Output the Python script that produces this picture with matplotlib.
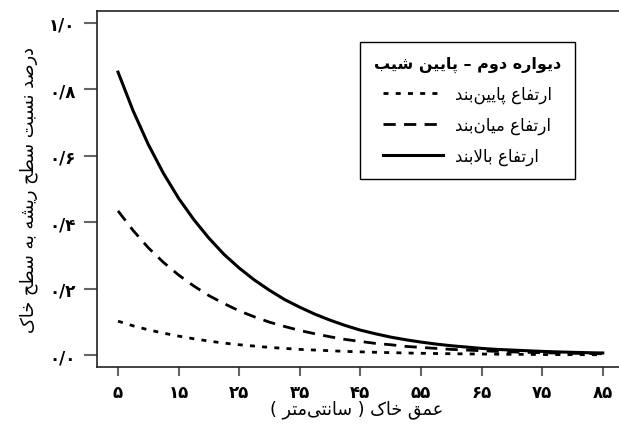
import matplotlib
matplotlib.use("Agg")
import matplotlib.pyplot as plt

# soil depth (cm) and root/soil surface ratio for the three wall heights
depth = [5, 7.5, 10, 12.5, 15, 17.5, 20, 22.5, 25, 27.5, 30, 32.5, 35, 37.5, 40, 42.5,
         45, 47.5, 50, 52.5, 55, 57.5, 60, 62.5, 65, 67.5, 70, 72.5, 75, 77.5, 80, 82.5, 85]
low_band = [0.102, 0.088, 0.076, 0.066, 0.057, 0.049, 0.042, 0.036, 0.031, 0.027, 0.023,
            0.020, 0.017, 0.015, 0.013, 0.011, 0.0096, 0.0083, 0.0072, 0.0062, 0.0053,
            0.0046, 0.0040, 0.0034, 0.0030, 0.0026, 0.0022, 0.0019, 0.0016, 0.0014,
            0.0012, 0.0011, 0.0009]
mid_band = [0.434, 0.375, 0.323, 0.279, 0.241, 0.208, 0.179, 0.155, 0.133, 0.115, 0.099,
            0.086, 0.074, 0.064, 0.055, 0.047, 0.041, 0.035, 0.031, 0.026, 0.023, 0.020,
            0.017, 0.015, 0.013, 0.011, 0.0094, 0.0081, 0.0070, 0.0060, 0.0052, 0.0045,
            0.0039]
high_band = [0.852, 0.735, 0.634, 0.547, 0.472, 0.408, 0.352, 0.303, 0.262, 0.226, 0.195,
             0.167, 0.144, 0.123, 0.105, 0.089, 0.075, 0.064, 0.054, 0.046, 0.039, 0.033,
             0.028, 0.024, 0.020, 0.017, 0.015, 0.013, 0.011, 0.0095, 0.0082, 0.0071,
             0.0062]

x_ticks = [5, 15, 25, 35, 45, 55, 65, 75, 85]
x_ticklabels = ["۵", "۱۵", "۲۵", "۳۵", "۴۵", "۵۵", "۶۵", "۷۵", "۸۵"]
y_ticks = [0.0, 0.2, 0.4, 0.6, 0.8, 1.0]
y_ticklabels = ["۰/۰", "۰/۲", "۰/۴", "۰/۶", "۰/۸", "۱/۰"]

legend_title = "دیواره دوم – پایین شیب"
series_labels = ["ارتفاع پایین\u200cبند", "ارتفاع میان\u200cبند", "ارتفاع بالابند"]
x_title = "عمق خاک ( سانتی\u200cمتر )"
y_title = "درصد نسبت سطح ریشه به سطح خاک"

# presentation forms: isolated, final, initial, medial
FORMS = {
    "ا": ("\ufe8d", "\ufe8e", None, None),
    "ب": ("\ufe8f", "\ufe90", "\ufe91", "\ufe92"),
    "پ": ("\ufb56", "\ufb57", "\ufb58", "\ufb59"),
    "ت": ("\ufe95", "\ufe96", "\ufe97", "\ufe98"),
    "ح": ("\ufea1", "\ufea2", "\ufea3", "\ufea4"),
    "خ": ("\ufea5", "\ufea6", "\ufea7", "\ufea8"),
    "د": ("\ufea9", "\ufeaa", None, None),
    "ر": ("\ufead", "\ufeae", None, None),
    "س": ("\ufeb1", "\ufeb2", "\ufeb3", "\ufeb4"),
    "ش": ("\ufeb5", "\ufeb6", "\ufeb7", "\ufeb8"),
    "ص": ("\ufeb9", "\ufeba", "\ufebb", "\ufebc"),
    "ط": ("\ufec1", "\ufec2", "\ufec3", "\ufec4"),
    "ع": ("\ufec9", "\ufeca", "\ufecb", "\ufecc"),
    "ف": ("\ufed1", "\ufed2", "\ufed3", "\ufed4"),
    "ق": ("\ufed5", "\ufed6", "\ufed7", "\ufed8"),
    "ل": ("\ufedd", "\ufede", "\ufedf", "\ufee0"),
    "م": ("\ufee1", "\ufee2", "\ufee3", "\ufee4"),
    "ن": ("\ufee5", "\ufee6", "\ufee7", "\ufee8"),
    "ه": ("\ufee9", "\ufeea", "\ufeeb", "\ufeec"),
    "و": ("\ufeed", "\ufeee", None, None),
    "ک": ("\ufb8e", "\ufb8f", "\ufb90", "\ufb91"),
    "ی": ("\ufbfc", "\ufbfd", "\ufbfe", "\ufbff"),
}


def joins_forward(c):
    return c in FORMS and FORMS[c][2] is not None


def shape(text):
    # contextual forms + lam-alef, then reverse for left-to-right drawing
    out = []
    i = 0
    while i < len(text):
        c = text[i]
        if c not in FORMS:
            out.append(c)
            i += 1
            continue
        jp = i > 0 and joins_forward(text[i - 1])
        if c == "ل" and i + 1 < len(text) and text[i + 1] == "ا":
            out.append("\ufefc" if jp else "\ufefb")
            i += 2
            continue
        nxt = text[i + 1] if i + 1 < len(text) else ""
        jn = FORMS[c][2] is not None and nxt in FORMS
        iso, fin, ini, med = FORMS[c]
        if jp and jn:
            out.append(med)
        elif jp:
            out.append(fin)
        elif jn:
            out.append(ini)
        else:
            out.append(iso)
        i += 1
    s = "".join(out).replace("\u200c", "")[::-1]
    return s.translate(str.maketrans("()", ")("))


plt.rcParams["font.family"] = ["DejaVu Sans"]

fig = plt.figure(figsize=(6.19, 4.27), dpi=100)
ax = fig.add_axes([97 / 619, 59 / 427, 530 / 619, 356 / 427])

ax.plot(depth, low_band, color="black", lw=2, dashes=(1.8, 2.6), label=shape(series_labels[0]))
ax.plot(depth, mid_band, color="black", lw=2, dashes=(4.4, 3.0), label=shape(series_labels[1]))
ax.plot(depth, high_band, color="black", lw=2.2, label=shape(series_labels[2]))

ax.set_xlim(1.53, 89.0)
ax.set_ylim(-0.036, 1.036)

ax.set_xticks(x_ticks)
ax.set_xticklabels(x_ticklabels, fontsize=12, fontweight="bold")
ax.set_yticks(y_ticks)
ax.set_yticklabels(y_ticklabels, fontsize=12, fontweight="bold")
ax.tick_params(axis="y", length=9.5, width=1.5, color="#666666", pad=6)
ax.tick_params(axis="x", length=6.5, width=1.5, color="#666666", pad=5)

for side in ["left", "bottom", "top"]:
    ax.spines[side].set_color("#222222")
    ax.spines[side].set_linewidth(1.2)
ax.spines["right"].set_visible(False)

ax.set_xlabel(shape(x_title), fontsize=12.7, va="center")
ax.xaxis.set_label_coords(0.49, -0.118)
ax.set_ylabel(shape(y_title), fontsize=12.8, va="center")
ax.yaxis.set_label_coords(-0.128, 0.5)

leg = ax.legend(loc="upper left", bbox_to_anchor=(0.496, 0.913), borderaxespad=0,
                title=shape(legend_title), title_fontproperties={"weight": "bold", "size": 11.5},
                fontsize=12, frameon=True, fancybox=False, framealpha=1,
                handlelength=3.6, handletextpad=0.7, labelspacing=0.75, borderpad=0.85)
leg.get_frame().set_edgecolor("black")
leg.get_frame().set_linewidth(1.0)

plt.savefig("out.png", dpi=100)
